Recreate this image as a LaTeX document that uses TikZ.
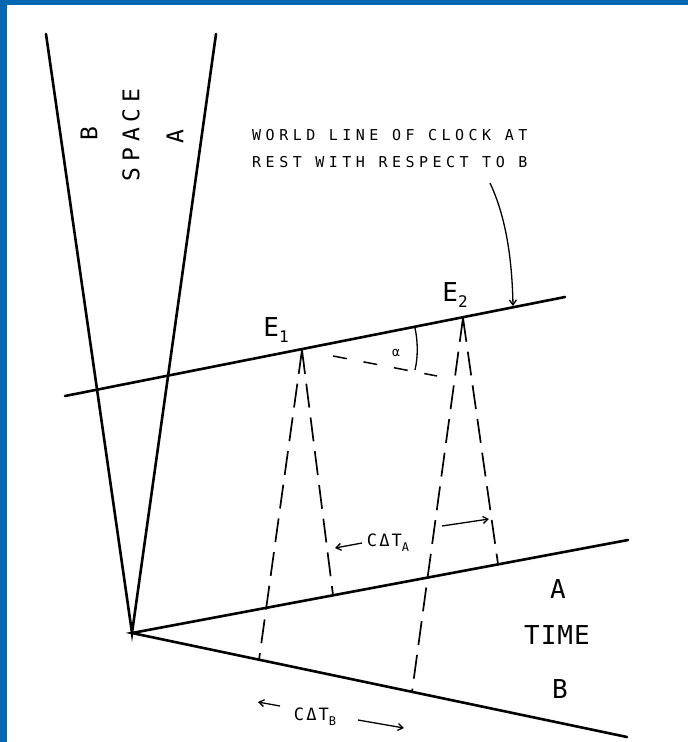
\documentclass[tikz,border=0pt]{standalone}
\usepackage{fontspec}
\usepackage{tikz}
\usetikzlibrary{arrows.meta}
\newfontfamily\letsmall[LetterSpace=30]{DejaVu Sans Mono}
\newfontfamily\letmid[LetterSpace=12]{DejaVu Sans Mono}
\newfontfamily\letbig[LetterSpace=4]{DejaVu Sans Mono}
\newfontfamily\letwide[LetterSpace=25]{DejaVu Sans Mono}
\definecolor{frameblue}{RGB}{0,103,177}

\begin{document}
\begin{tikzpicture}[x=1pt,y=-1pt,
  axis/.style={line width=2.6pt,line cap=round},
  signal/.style={line width=1.7pt,dash pattern=on 24pt off 10pt},
  tag/.style={font=\letbig\fontsize{26}{26}\selectfont,inner sep=0pt},
  spacetag/.style={font=\letwide\fontsize{23}{23}\selectfont,inner sep=0pt,rotate=90},
  evtag/.style={font=\letmid\fontsize{26}{26}\selectfont,inner sep=0pt},
  dimtag/.style={font=\letmid\fontsize{17}{17}\selectfont,inner sep=0pt},
  note/.style={font=\letsmall\fontsize{15}{16}\selectfont,inner sep=0pt},
  dim/.style={line width=1.3pt,-{Straight Barb[length=5pt,width=7pt]}}]
  \useasboundingbox (0,0) rectangle (688,742);
  \fill[frameblue] (0,0) rectangle (688,5);
  \fill[frameblue] (0,0) rectangle (7,742);
  % space and time axes
  \coordinate (O) at (132,633);
  \coordinate (spB) at (46,34);
  \coordinate (spA) at (216,34);
  \coordinate (tA) at (628,540);
  \coordinate (tB) at (627,737);
  \draw[axis] (spB) -- (O) -- (spA);
  \draw[axis] (tA) -- (O) -- (tB);
  % world line of the clock
  \coordinate (wl0) at (65,396);
  \coordinate (wl1) at (565,297);
  \draw[axis] (wl0) -- (wl1);
  \coordinate (E1) at (302,350);
  \coordinate (E2) at (463,318);
  % light signals
  \coordinate (b1) at (259,660);
  \coordinate (a1) at (333,595);
  \coordinate (b2) at (412,692);
  \coordinate (a2) at (498,564);
  \draw[signal] (E1) -- (b1);
  \draw[signal] (E1) -- (a1);
  \draw[signal] (E2) -- (b2);
  \draw[signal] (E2) -- (a2);
  % angle between the lines
  \coordinate (s0) at (333,356);
  \coordinate (s1) at (437,376);
  \draw[line width=1.5pt,dash pattern=on 14pt off 17pt] (s0) -- (s1);
  \draw[line width=1.3pt] (415,328) .. controls (418,342) and (418,357) .. (415,370);
  \node[font=\letmid\fontsize{13}{13}\selectfont] (ang) at (396,353) {α};
  % labels
  \node[spacetag] (lB) at (89,134) {B};
  \node[spacetag] (lS) at (131,135) {SPACE};
  \node[spacetag] (lA) at (175,137) {A};
  \node[tag] (tagA) at (558,589) {A};
  \node[tag] (tagT) at (557,635) {TIME};
  \node[tag] (tagB) at (560,689) {B};
  \node[evtag] (e1) at (276,330) {E\raisebox{-6pt}{\fontsize{16}{16}\selectfont 1}};
  \node[evtag] (e2) at (455,295) {E\raisebox{-6pt}{\fontsize{16}{16}\selectfont 2}};
  \node[note,anchor=west] (w1) at (252,135) {WORLD LINE OF CLOCK AT};
  \node[note,anchor=west] (w2) at (252,162) {REST WITH RESPECT TO B};
  \draw[dim] (490,183) .. controls (505,215) and (512,255) .. (513,306);
  % c delta t along A
  \node[dimtag] (dA) at (388,543) {CΔT\raisebox{-5pt}{\fontsize{12}{12}\selectfont A}};
  \draw[dim] (362,543) -- (335,548);
  \draw[dim] (442,526) -- (489,519);
  % c delta t along B
  \node[dimtag] (dB) at (315,717) {CΔT\raisebox{-5pt}{\fontsize{12}{12}\selectfont B}};
  \draw[dim] (280,706) -- (258,702);
  \draw[dim] (358,720) -- (404,728);
\end{tikzpicture}
\end{document}
